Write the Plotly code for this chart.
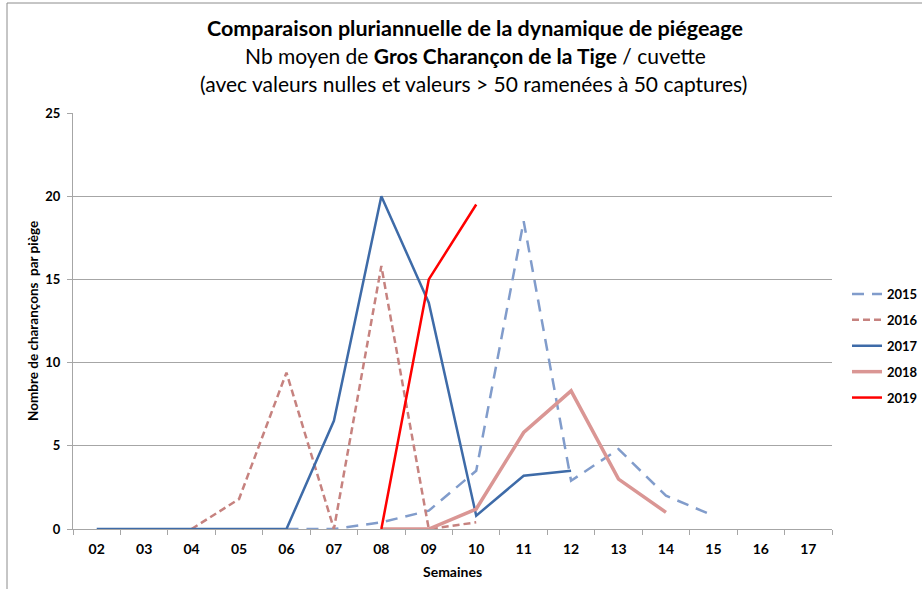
import plotly.graph_objects as go

# ---- data ----
weeks = ["02", "03", "04", "05", "06", "07", "08", "09", "10", "11", "12", "13", "14", "15", "16", "17"]

weeks_2015 = ["06", "07", "08", "09", "10", "11", "12", "13", "14", "15"]
vals_2015 = [0, 0, 0.4, 1.1, 3.5, 18.5, 2.9, 4.8, 2.0, 0.8]

weeks_2016 = ["04", "05", "06", "07", "08", "09", "10"]
vals_2016 = [0, 1.8, 9.4, 0, 15.8, 0, 0.4]

weeks_2017 = ["02", "03", "04", "05", "06", "07", "08", "09", "10", "11", "12"]
vals_2017 = [0, 0, 0, 0, 0, 6.5, 20, 13.6, 0.8, 3.2, 3.5]

weeks_2018 = ["08", "09", "10", "11", "12", "13", "14"]
vals_2018 = [0, 0, 1.2, 5.8, 8.3, 3.0, 1.0]

weeks_2019 = ["08", "09", "10"]
vals_2019 = [0, 15.0, 19.5]

y_ticks = [0, 5, 10, 15, 20, 25]

# ---- layout geometry (pixels) ----
W, H = 922, 589
L, R, T, B = 73, 832, 113, 529
PW, PH = R - L, B - T

def px(x):
    return (x - L) / PW

def py(y):
    return (B - y) / PH

FONT = "Lato"
fig = go.Figure()

series = [
    ("2015", weeks_2015, vals_2015, "#819CCB", 2.5, "12px,8px"),
    ("2016", weeks_2016, vals_2016, "#C6827F", 2.5, "7px,4px"),
    ("2017", weeks_2017, vals_2017, "#3E6BA8", 2.5, "solid"),
    ("2018", weeks_2018, vals_2018, "#DA9694", 3.5, "solid"),
    ("2019", weeks_2019, vals_2019, "#FF0000", 2.5, "solid"),
]
for name, xs, ys, color, width, dash in series:
    fig.add_trace(go.Scatter(
        x=xs, y=ys, name=name, mode="lines", legendgroup=name,
        line=dict(color=color, width=width, dash=dash),
    ))

grid = "#A6A6A6"
fig.update_layout(
    width=W, height=H,
    margin=dict(l=L, r=W - R, t=T, b=H - B, pad=0, autoexpand=False),
    paper_bgcolor="white", plot_bgcolor="white",
    font=dict(family=FONT, color="#000000"),
    showlegend=True,
    legend=dict(
        xref="container", yref="container",
        x=847 / W, xanchor="left", y=1 - 346 / H, yanchor="middle",
        font=dict(family=FONT, size=13, weight="bold"),
        traceorder="grouped", tracegroupgap=6,
        bgcolor="rgba(0,0,0,0)",
    ),
    xaxis=dict(
        type="category", categoryorder="array", categoryarray=weeks,
        range=[-0.5, len(weeks) - 0.5],
        showgrid=False, showline=True, linecolor=grid, linewidth=1,
        ticks="outside", tickson="boundaries", ticklen=5, tickcolor=grid,
        tickfont=dict(family=FONT, size=14, weight="bold"),
        ticklabelstandoff=7,
        automargin=False,
    ),
    yaxis=dict(
        range=[0, 25], tickvals=y_ticks,
        showgrid=True, gridcolor=grid, gridwidth=1,
        showline=True, linecolor=grid, linewidth=1,
        ticks="outside", ticklen=5, tickcolor=grid,
        tickfont=dict(family=FONT, size=13, weight="bold"),
        ticklabelstandoff=4,
        zeroline=False, automargin=False,
    ),
)

ann = [
    dict(text="<b>Comparaison pluriannuelle de la dynamique de piégeage</b>", x=px(475), y=py(28), size=21.5),
    dict(text="Nb moyen de <b>Gros Charançon de la Tige</b> / cuvette", x=px(475), y=py(56), size=21),
    dict(text="(avec valeurs nulles et valeurs > 50 ramenées à 50 captures)", x=px(473), y=py(84), size=21),
    dict(text="<b>Semaines</b>", x=px(452), y=py(571), size=14),
]
for a in ann:
    fig.add_annotation(text=a["text"], x=a["x"], y=a["y"], xref="paper", yref="paper",
                       xanchor="center", yanchor="middle", showarrow=False,
                       font=dict(family=FONT, size=a["size"], color="#000000"))

fig.add_annotation(text="<b>Nombre de charançons  par piège</b>", x=px(33), y=py(321),
                   xref="paper", yref="paper", xanchor="center", yanchor="middle",
                   textangle=-90, showarrow=False,
                   font=dict(family=FONT, size=13.5, color="#000000"))

fig.add_shape(type="rect", xref="paper", yref="paper",
              x0=px(7), x1=px(930), y0=py(595), y1=py(3),
              line=dict(color="#8C8C8C", width=1), fillcolor="rgba(0,0,0,0)", layer="below")

fig.write_html("out.html", config={"displayModeBar": False},
               post_script="document.body.style.margin='0';document.body.style.padding='0';")
